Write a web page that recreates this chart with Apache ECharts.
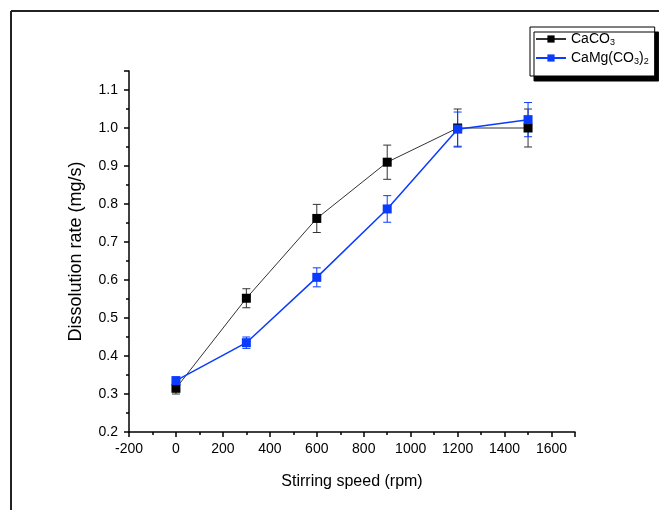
<!DOCTYPE html>
<html>
<head>
<meta charset="utf-8">
<script src="https://cdn.jsdelivr.net/npm/echarts@6/dist/echarts.min.js"></script>
<style>
  html, body { margin: 0; padding: 0; background: #fff; }
  #chart { width: 659px; height: 510px; }
</style>
</head>
<body>
<div id="chart"></div>
<script>
  // stirring speed (rpm)
  var speeds = [0, 300, 600, 900, 1200, 1500];
  // dissolution rate (mg/s) and error (±)
  var caco3 = [0.315, 0.552, 0.762, 0.910, 1.000, 1.000];
  var caco3Err = [0.015, 0.025, 0.037, 0.045, 0.05, 0.05];
  var camg = [0.335, 0.435, 0.607, 0.787, 0.997, 1.022];
  var camgErr = [0.010, 0.015, 0.025, 0.035, 0.045, 0.045];

  var chart = echarts.init(document.getElementById('chart'));

  function pts(vals) {
    return speeds.map(function (s, i) { return [s, vals[i]]; });
  }
  function errs(vals, e) {
    return speeds.map(function (s, i) { return [s, vals[i] - e[i], vals[i] + e[i]]; });
  }
  function errRender(color) {
    return function (params, api) {
      var lo = api.coord([api.value(0), api.value(1)]);
      var hi = api.coord([api.value(0), api.value(2)]);
      var w = 4;
      var st = { stroke: color, lineWidth: 1 };
      return {
        type: 'group',
        children: [
          { type: 'line', shape: { x1: lo[0], y1: lo[1], x2: hi[0], y2: hi[1] }, style: st },
          { type: 'line', shape: { x1: lo[0] - w, y1: lo[1], x2: lo[0] + w, y2: lo[1] }, style: st },
          { type: 'line', shape: { x1: hi[0] - w, y1: hi[1], x2: hi[0] + w, y2: hi[1] }, style: st }
        ]
      };
    };
  }
  function tickFmt(step, dec) {
    return function (v) {
      var r = Math.round(v / step);
      if (Math.abs(v / step - r) > 1e-6) return '';
      return dec ? v.toFixed(dec) : String(Math.round(v));
    };
  }

  var font = 'Liberation Sans, Arial, sans-serif';
  var blue = '#0a3cff';

  chart.setOption({
    animation: false,
    backgroundColor: '#fff',
    textStyle: { fontFamily: font },
    grid: { left: 129, right: 84, top: 71, bottom: 78 },
    legend: {
      left: 530, top: 27,
      orient: 'vertical',
      padding: [5, 6, 10, 5],
      itemGap: 4,
      itemWidth: 30,
      itemHeight: 9,
      backgroundColor: '#fff',
      borderColor: '#000',
      borderWidth: 1,
      shadowColor: '#000',
      shadowBlur: 0,
      shadowOffsetX: 4,
      shadowOffsetY: 5,
      data: ['CaCO3', 'CaMg(CO3)2'],
      formatter: function (name) {
        if (name === 'CaCO3') return '{n|CaCO}{s|3}';
        return '{n|CaMg(CO}{s|3}{n|)}{s|2}';
      },
      textStyle: {
        color: '#000',
        rich: {
          n: { fontSize: 14, fontFamily: font, color: '#000', lineHeight: 16, verticalAlign: 'middle' },
          s: { fontSize: 9, fontFamily: font, color: '#000', lineHeight: 4, verticalAlign: 'bottom' }
        }
      }
    },
    xAxis: {
      type: 'value',
      min: -200, max: 1700, interval: 200,
      name: 'Stirring speed (rpm)',
      nameLocation: 'middle',
      nameGap: 42,
      nameTextStyle: { fontSize: 16, color: '#000', fontFamily: font },
      axisLine: { onZero: false, lineStyle: { color: '#000', width: 1.5 } },
      axisTick: { length: 5, lineStyle: { color: '#000', width: 1.5 } },
      minorTick: { show: true, splitNumber: 2, length: 3, lineStyle: { color: '#000', width: 1.5 } },
      axisLabel: { fontSize: 14, color: '#000', margin: 10, formatter: tickFmt(200, 0) },
      splitLine: { show: false }
    },
    yAxis: {
      type: 'value',
      min: 0.2, max: 1.15, interval: 0.1,
      name: 'Dissolution rate (mg/s)',
      nameLocation: 'middle',
      nameGap: 44,
      nameTextStyle: { fontSize: 18, color: '#000', fontFamily: font },
      axisLine: { onZero: false, lineStyle: { color: '#000', width: 1.5 } },
      axisTick: { length: 5, lineStyle: { color: '#000', width: 1.5 } },
      minorTick: { show: true, splitNumber: 2, length: 3, lineStyle: { color: '#000', width: 1.5 } },
      axisLabel: { fontSize: 14, color: '#000', margin: 11, formatter: tickFmt(0.1, 1) },
      splitLine: { show: false }
    },
    graphic: [
      { type: 'line', shape: { x1: 11, y1: 11, x2: 11, y2: 510 }, style: { stroke: '#222', lineWidth: 2 } },
      { type: 'line', shape: { x1: 11, y1: 11, x2: 659, y2: 11 }, style: { stroke: '#222', lineWidth: 2 } }
    ],
    series: [
      {
        name: 'CaCO3', type: 'line', data: pts(caco3),
        symbol: 'rect', symbolSize: 9,
        itemStyle: { color: '#000' },
        lineStyle: { color: '#333', width: 1 },
        z: 3
      },
      {
        name: 'CaMg(CO3)2', type: 'line', data: pts(camg),
        symbol: 'rect', symbolSize: 9,
        itemStyle: { color: blue },
        lineStyle: { color: blue, width: 1.5 },
        z: 4
      },
      {
        type: 'custom', name: 'CaCO3 err', data: errs(caco3, caco3Err),
        renderItem: errRender('#333'), z: 2, silent: true
      },
      {
        type: 'custom', name: 'CaMg err', data: errs(camg, camgErr),
        renderItem: errRender(blue), z: 2, silent: true
      }
    ]
  });
</script>
</body>
</html>
